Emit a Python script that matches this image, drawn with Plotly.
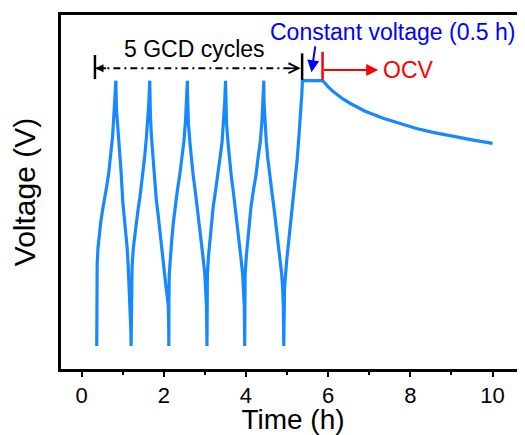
import plotly.graph_objects as go

# ---- GCD cycles (time in h, voltage normalised) ----
charge1_t = [0.37, 0.37, 0.372, 0.38, 0.40, 0.43, 0.47, 0.52, 0.57, 0.61, 0.66, 0.70, 0.755, 0.79, 0.815, 0.835]
charge1_v = [0.0, 0.15, 0.25, 0.31, 0.37, 0.42, 0.47, 0.52, 0.56, 0.60, 0.65, 0.70, 0.79, 0.88, 0.94, 1.0]
discharge1_t = [0.84, 0.85, 0.88, 0.915, 0.96, 1.005, 1.045, 1.08, 1.11, 1.135, 1.16, 1.175, 1.19, 1.2, 1.205]
discharge1_v = [0.96, 0.89, 0.83, 0.77, 0.66, 0.54, 0.48, 0.43, 0.37, 0.30, 0.22, 0.17, 0.12, 0.06, 0.0]

charge2_t = [1.205, 1.21, 1.23, 1.26, 1.30, 1.34, 1.38, 1.42, 1.46, 1.50, 1.54, 1.58, 1.61, 1.635, 1.66]
charge2_v = [0.0, 0.17, 0.30, 0.37, 0.43, 0.48, 0.52, 0.56, 0.61, 0.66, 0.72, 0.79, 0.85, 0.91, 1.0]
discharge2_t = [1.665, 1.675, 1.70, 1.74, 1.78, 1.82, 1.86, 1.905, 1.95, 2.0, 2.05, 2.09, 2.11, 2.12, 2.124]
discharge2_v = [0.93, 0.87, 0.79, 0.70, 0.62, 0.55, 0.50, 0.43, 0.37, 0.30, 0.23, 0.18, 0.15, 0.08, 0.0]

charge3_t = [2.124, 2.126, 2.134, 2.16, 2.19, 2.23, 2.27, 2.33, 2.39, 2.44, 2.49, 2.53, 2.555, 2.575]
charge3_v = [0.0, 0.16, 0.27, 0.34, 0.39, 0.46, 0.52, 0.585, 0.645, 0.71, 0.77, 0.85, 0.92, 1.0]
discharge3_t = [2.578, 2.585, 2.60, 2.635, 2.67, 2.715, 2.77, 2.82, 2.87, 2.92, 2.96, 3.0, 3.025, 3.04, 3.052]
discharge3_v = [0.95, 0.90, 0.84, 0.77, 0.71, 0.645, 0.58, 0.52, 0.455, 0.39, 0.33, 0.27, 0.21, 0.15, 0.0]

charge4_t = [3.052, 3.054, 3.062, 3.09, 3.12, 3.16, 3.20, 3.26, 3.32, 3.37, 3.42, 3.46, 3.483, 3.503]
charge4_v = [0.0, 0.16, 0.27, 0.34, 0.39, 0.46, 0.52, 0.585, 0.645, 0.71, 0.77, 0.85, 0.92, 1.0]
discharge4_t = [3.506, 3.513, 3.528, 3.562, 3.597, 3.64, 3.694, 3.743, 3.792, 3.841, 3.88, 3.92, 3.944, 3.96, 3.97]
discharge4_v = [0.95, 0.90, 0.84, 0.77, 0.71, 0.645, 0.58, 0.52, 0.455, 0.39, 0.33, 0.27, 0.21, 0.15, 0.0]

charge5_t = [3.97, 3.972, 3.98, 4.01, 4.04, 4.08, 4.12, 4.18, 4.245, 4.295, 4.35, 4.39, 4.413, 4.435]
charge5_v = [0.0, 0.16, 0.27, 0.34, 0.39, 0.46, 0.52, 0.585, 0.645, 0.71, 0.77, 0.85, 0.92, 1.0]
discharge5_t = [4.438, 4.445, 4.46, 4.495, 4.53, 4.575, 4.632, 4.683, 4.735, 4.787, 4.83, 4.87, 4.895, 4.91, 4.92]
discharge5_v = [0.95, 0.90, 0.84, 0.77, 0.71, 0.645, 0.58, 0.52, 0.455, 0.39, 0.33, 0.27, 0.21, 0.15, 0.0]

charge6_t = [4.92, 4.922, 4.94, 4.99, 5.04, 5.085, 5.125, 5.165, 5.205, 5.245, 5.28, 5.31, 5.34, 5.36, 5.375]
charge6_v = [0.0, 0.16, 0.22, 0.32, 0.39, 0.45, 0.51, 0.575, 0.64, 0.70, 0.77, 0.83, 0.89, 0.95, 1.0]

# ---- constant voltage hold (0.5 h) ----
cv_t = [5.375, 5.86]
cv_v = [1.0, 1.0]

# ---- open-circuit voltage decay ----
ocv_t = [5.86, 5.93, 5.99, 6.1, 6.2, 6.35, 6.53, 6.9, 7.34, 7.75, 8.15, 8.55, 8.96, 9.5, 10.0]
ocv_v = [1.0, 0.99, 0.978, 0.962, 0.950, 0.932, 0.915, 0.885, 0.858, 0.838, 0.82, 0.805, 0.792, 0.777, 0.764]

x_ticks = [0, 2, 4, 6, 8, 10]
x_title = "Time (h)"
y_title = "Voltage (V)"

segments_t = [charge1_t, discharge1_t, charge2_t, discharge2_t, charge3_t, discharge3_t,
              charge4_t, discharge4_t, charge5_t, discharge5_t, charge6_t, cv_t, ocv_t]
segments_v = [charge1_v, discharge1_v, charge2_v, discharge2_v, charge3_v, discharge3_v,
              charge4_v, discharge4_v, charge5_v, discharge5_v, charge6_v, cv_v, ocv_v]

all_t, all_v = [], []
for ts, vs in zip(segments_t, segments_v):
    all_t += ts
    all_v += vs

BLUE_LINE = "#1689FF"
FONT = "Liberation Sans, Arial, sans-serif"

fig = go.Figure()
fig.add_trace(go.Scatter(x=all_t, y=all_v, mode="lines",
                         line=dict(color=BLUE_LINE, width=3.2), showlegend=False,
                         hoverinfo="skip"))

# dash-dot dimension line for the 5 GCD cycles
fig.add_shape(type="line", x0=0.36, x1=5.30, y0=1.047, y1=1.047, xref="x", yref="y",
              line=dict(color="black", width=2, dash="7px,4px,2px,4px"))
fig.add_shape(type="line", x0=0.326, x1=0.326, y0=1.006, y1=1.097, xref="x", yref="y",
              line=dict(color="black", width=2.5))
fig.add_shape(type="line", x0=5.367, x1=5.367, y0=1.003, y1=1.103, xref="x", yref="y",
              line=dict(color="black", width=2.5))
fig.add_shape(type="line", x0=5.864, x1=5.864, y0=1.003, y1=1.109, xref="x", yref="y",
              line=dict(color="red", width=2.5))

ann = []
# left filled arrowhead
ann.append(dict(x=0.34, y=1.047, xref="x", yref="y", ax=12, ay=0, text="", showarrow=True,
                arrowhead=2, arrowsize=0.8, arrowwidth=2, arrowcolor="black"))
# right open arrowhead
ann.append(dict(x=5.33, y=1.047, xref="x", yref="y", ax=-12, ay=0, text="", showarrow=True,
                arrowhead=5, arrowsize=1.3, arrowwidth=1.5, arrowcolor="black"))
# blue arrow
ann.append(dict(x=5.595, y=1.032, xref="x", yref="y", ax=5.692, ay=1.135, axref="x", ayref="y",
                text="", showarrow=True, arrowhead=2, arrowsize=1.2, arrowwidth=2, arrowcolor="#0000FF"))
# red arrow
ann.append(dict(x=7.217, y=1.040, xref="x", yref="y", ax=5.864, ay=1.040, axref="x", ayref="y",
                text="", showarrow=True, arrowhead=2, arrowsize=1.2, arrowwidth=2, arrowcolor="#FF0000"))
ann.append(dict(x=2.76, y=1.1176, xref="x", yref="y", text="5 GCD cycles", showarrow=False,
                font=dict(family=FONT, size=23, color="black")))
ann.append(dict(x=7.57, y=1.185, xref="x", yref="y", text="Constant voltage (0.5 h)", showarrow=False,
                font=dict(family=FONT, size=23, color="#0000FF")))
ann.append(dict(x=7.95, y=1.04, xref="x", yref="y", text="OCV", showarrow=False,
                font=dict(family=FONT, size=23, color="#FF0000")))

# the page body adds an 8px offset, so the figure is 8px smaller and margins shifted
fig.update_layout(
    width=517, height=427,
    margin=dict(l=53, r=0, t=7, b=66),
    paper_bgcolor="white", plot_bgcolor="white",
    font=dict(family=FONT, color="black"),
    annotations=ann,
    xaxis=dict(range=[-0.5, 10.79], tickvals=x_ticks, ticks="outside", ticklen=5, tickwidth=2,
               tickcolor="black", showline=True, linewidth=3, linecolor="black", mirror=True,
               showgrid=False, zeroline=False, tickfont=dict(size=22, family=FONT),
               minor=dict(ticks="outside", ticklen=3, tickwidth=2, tickcolor="black", dtick=1, tick0=0,
                          showgrid=False),
               title=dict(text=x_title, font=dict(size=28, family=FONT), standoff=2)),
    yaxis=dict(range=[-0.0867, 1.2476], showticklabels=False, ticks="", showline=True, linewidth=3,
               linecolor="black", showgrid=False, zeroline=False,
               title=dict(text=y_title, font=dict(size=30, family=FONT), standoff=16)),
)

fig.write_html("out.html")
